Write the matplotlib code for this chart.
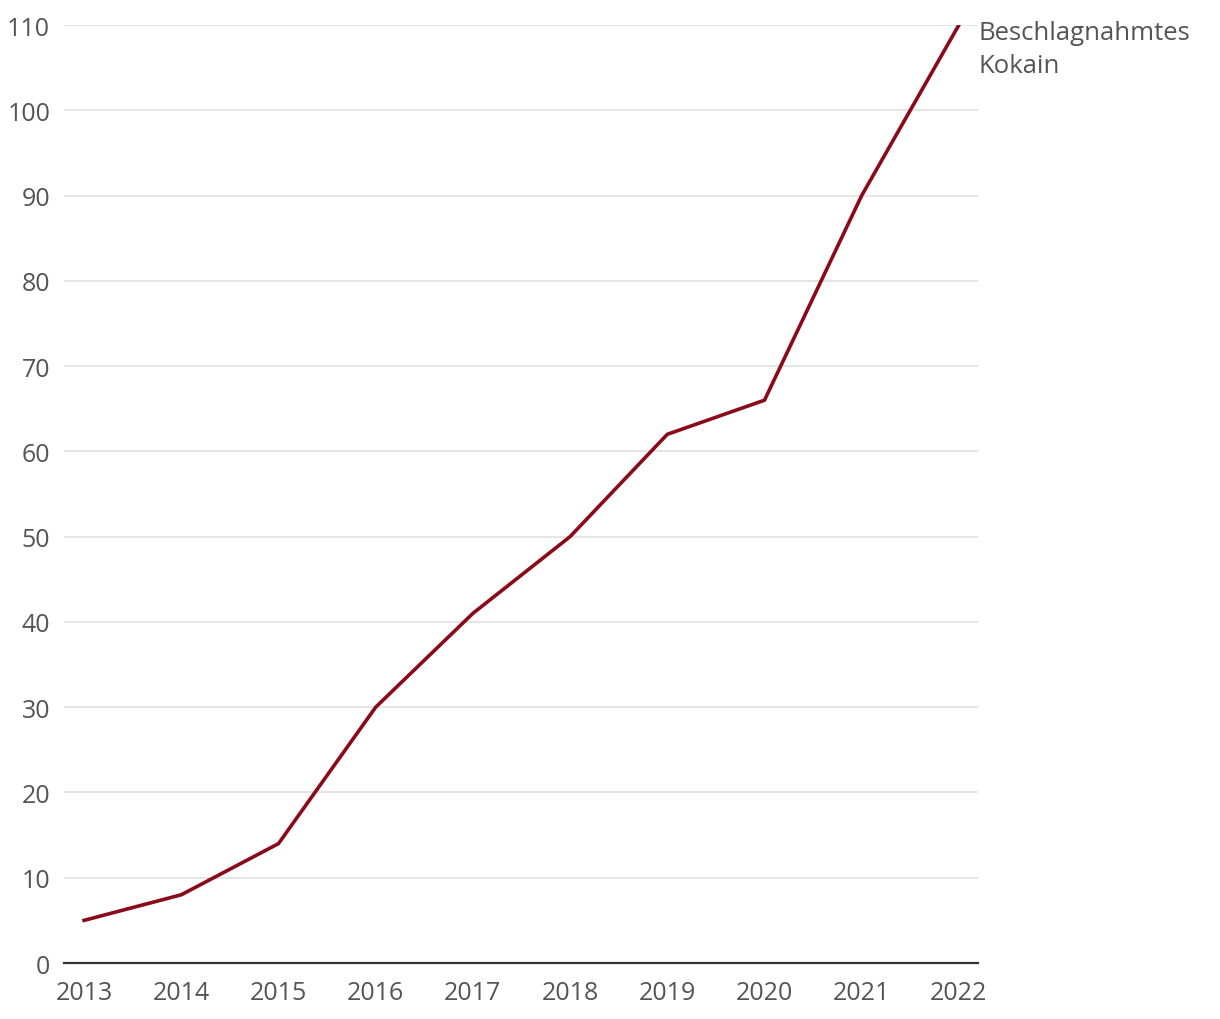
import matplotlib.pyplot as plt

years = [2013, 2014, 2015, 2016, 2017, 2018, 2019, 2020, 2021, 2022]
kokain = [5, 8, 14, 30, 41, 50, 62, 66, 90, 110]
y_ticks = [0, 10, 20, 30, 40, 50, 60, 70, 80, 90, 100, 110]
label = 'Beschlagnahmtes\nKokain'

plt.rcParams['font.family'] = ['Open Sans', 'DejaVu Sans']

fig = plt.figure(figsize=(12.2, 10.2), dpi=100)
ax = fig.add_axes([0.0525, 0.0549, 0.749, 0.9196])

ax.plot(years, kokain, color='#8b0a1a', lw=2.6, solid_joinstyle='miter', zorder=3)
ax.text(years[-1] + 0.2, kokain[-1] + 0.6, label, fontsize=18.5, color='#555555',
        va='top', ha='left', linespacing=1.45)

ax.set_xlim(2012.794, 2022.195)
ax.set_ylim(0, 110)
ax.set_xticks(years)
ax.set_yticks(y_ticks)
ax.grid(axis='y', color='#e3e3e3', lw=1.3)
ax.set_axisbelow(True)
for s in ['top', 'right', 'left']:
    ax.spines[s].set_visible(False)
ax.spines['bottom'].set_color('#333333')
ax.spines['bottom'].set_linewidth(1.6)
ax.tick_params(axis='both', length=0, labelsize=18, labelcolor='#555555')
ax.tick_params(axis='y', pad=10)
ax.tick_params(axis='x', pad=12)

fig.savefig('out.png', dpi=100, facecolor='white')
